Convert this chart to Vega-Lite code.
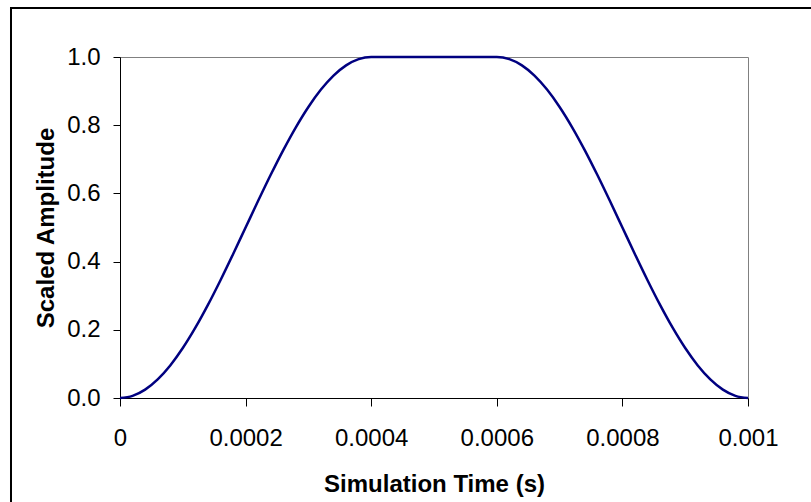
{
  "$schema": "https://vega.github.io/schema/vega-lite/v6.json",
  "width": 628,
  "height": 341,
  "autosize": {"type": "none"},
  "padding": {"left": 120, "top": 57, "right": 63, "bottom": 104},
  "background": "white",
  "config": {
    "font": "Liberation Sans",
    "view": {"stroke": "#808080", "strokeWidth": 1},
    "axis": {"grid": false, "domainColor": "black", "tickColor": "black", "labelColor": "black", "titleColor": "black", "labelFont": "Liberation Sans", "titleFont": "Liberation Sans"}
  },
  "layer": [
    {
      "data": {
        "values": [
          {"t": 0, "amp": 0},
          {"t": 0.00002, "amp": 0.00616},
          {"t": 0.00004, "amp": 0.02447},
          {"t": 0.00006, "amp": 0.0545},
          {"t": 0.00008, "amp": 0.09549},
          {"t": 0.0001, "amp": 0.14645},
          {"t": 0.00012, "amp": 0.20611},
          {"t": 0.00014, "amp": 0.273},
          {"t": 0.00016, "amp": 0.34549},
          {"t": 0.00018, "amp": 0.42178},
          {"t": 0.0002, "amp": 0.5},
          {"t": 0.00022, "amp": 0.57822},
          {"t": 0.00024, "amp": 0.65451},
          {"t": 0.00026, "amp": 0.727},
          {"t": 0.00028, "amp": 0.79389},
          {"t": 0.0003, "amp": 0.85355},
          {"t": 0.00032, "amp": 0.90451},
          {"t": 0.00034, "amp": 0.9455},
          {"t": 0.00036, "amp": 0.97553},
          {"t": 0.00038, "amp": 0.99384},
          {"t": 0.0004, "amp": 1},
          {"t": 0.0005, "amp": 1},
          {"t": 0.0006, "amp": 1},
          {"t": 0.00062, "amp": 0.99384},
          {"t": 0.00064, "amp": 0.97553},
          {"t": 0.00066, "amp": 0.9455},
          {"t": 0.00068, "amp": 0.90451},
          {"t": 0.0007, "amp": 0.85355},
          {"t": 0.00072, "amp": 0.79389},
          {"t": 0.00074, "amp": 0.727},
          {"t": 0.00076, "amp": 0.65451},
          {"t": 0.00078, "amp": 0.57822},
          {"t": 0.0008, "amp": 0.5},
          {"t": 0.00082, "amp": 0.42178},
          {"t": 0.00084, "amp": 0.34549},
          {"t": 0.00086, "amp": 0.273},
          {"t": 0.00088, "amp": 0.20611},
          {"t": 0.0009, "amp": 0.14645},
          {"t": 0.00092, "amp": 0.09549},
          {"t": 0.00094, "amp": 0.0545},
          {"t": 0.00096, "amp": 0.02447},
          {"t": 0.00098, "amp": 0.00616},
          {"t": 0.001, "amp": 0}
        ]
      },
      "mark": {"type": "line", "color": "#000080", "strokeWidth": 2.5, "interpolate": "monotone", "clip": false},
      "encoding": {
        "x": {
          "field": "t", "type": "quantitative",
          "title": "Simulation Time (s)",
          "scale": {"domain": [0, 0.001], "nice": false},
          "axis": {
            "values": [0, 0.0002, 0.0004, 0.0006, 0.0008, 0.001],
            "format": "~g",
            "tickSize": 8,
            "labelFontSize": 24,
            "labelPadding": 20,
            "labelFlush": false,
            "labelOverlap": false,
            "titleFontSize": 24,
            "titleFontWeight": "bold",
            "titlePadding": 22
          }
        },
        "y": {
          "field": "amp", "type": "quantitative",
          "title": "Scaled Amplitude",
          "scale": {"domain": [0, 1], "nice": false},
          "axis": {
            "values": [0, 0.2, 0.4, 0.6, 0.8, 1],
            "format": ".1f",
            "tickSize": 7,
            "labelFontSize": 24,
            "labelPadding": 13,
            "labelFlush": false,
            "labelOverlap": false,
            "titleFontSize": 24,
            "titleFontWeight": "bold",
            "titlePadding": 8
          }
        }
      }
    },
    {
      "data": {"values": [{"frame": "outer"}]},
      "mark": {"type": "rect", "filled": false, "stroke": "black", "strokeWidth": 2, "clip": false},
      "encoding": {
        "x": {"datum": -0.00017357, "type": "quantitative", "title": "Simulation Time (s)", "scale": {"domain": [0, 0.001], "nice": false}},
        "x2": {"datum": 0.00113},
        "y": {"datum": 1.1437, "type": "quantitative", "title": "Scaled Amplitude", "scale": {"domain": [0, 1], "nice": false}},
        "y2": {"datum": -0.36}
      }
    }
  ]
}
